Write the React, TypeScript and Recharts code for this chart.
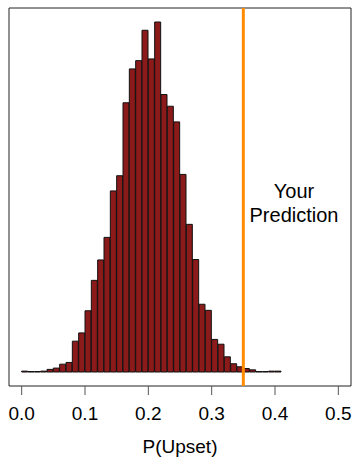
import { BarChart, Bar, XAxis, YAxis, ReferenceLine, ReferenceArea, ReferenceDot } from 'recharts'

// histogram of simulated P(Upset), bins of 0.01 starting at 0
const binStart = 0
const binWidth = 0.01
const counts = [
  2, 1, 1, 2, 6, 9, 18, 22, 71, 90,
  141, 211, 258, 310, 417, 452, 620, 698, 717, 787,
  721, 806, 639, 612, 576, 455, 340, 259, 156, 142,
  75, 64, 35, 19, 12, 8, 5, 1, 1, 2,
  2,
]
const xTicks = [0, 0.1, 0.2, 0.3, 0.4, 0.5]
const prediction = 0.35
const predictionLabel = ['Your', 'Prediction']

const data = counts.map((count, i) => ({ x: binStart + (i + 0.5) * binWidth, count }))

const maxCount = Math.max(...counts)
// R style 4% padding around the ranges
const yDomain = [-0.04 * maxCount, 1.04 * maxCount]
const xDomain = [-0.02, 0.52]

const FONT = '"Liberation Sans", Arial, sans-serif'

export default function App() {
  return (
    <div style={{ position: 'absolute', left: 0, top: 0, fontFamily: FONT }}>
      <BarChart
        width={354}
        height={460}
        data={data}
        margin={{ top: 8, right: 3, bottom: 0, left: 9 }}
        barCategoryGap={0}
        barGap={0}
      >
        <XAxis
          dataKey="x"
          type="number"
          domain={xDomain}
          allowDataOverflow
          ticks={xTicks}
          tickFormatter={(v: number) => v.toFixed(1)}
          height={74}
          axisLine={false}
          tickSize={9}
          tickMargin={12}
          tickLine={{ stroke: '#555' }}
          tick={{ fill: '#000', fontSize: 19, fontFamily: FONT }}
          label={{ value: 'P(Upset)', position: 'insideBottom', offset: 7, fill: '#000', fontSize: 19, fontFamily: FONT }}
        />
        <YAxis hide domain={yDomain} allowDataOverflow />
        <Bar dataKey="count" fill="#8B1A1A" stroke="#111" strokeWidth={1} isAnimationActive={false} />
        <ReferenceLine x={prediction} stroke="#FF8C00" strokeWidth={3} />
        <ReferenceDot
          x={0.43}
          y={400}
          r={0}
          fill="none"
          stroke="none"
          label={{
            content: (props: any) => {
              const { viewBox } = props
              const cx = viewBox.x + viewBox.width / 2
              const cy = viewBox.y + viewBox.height / 2
              return (
                <text textAnchor="middle" fontSize={20} fontFamily={FONT} fill="#000">
                  {predictionLabel.map((line, i) => (
                    <tspan key={line} x={cx} y={cy + i * 24}>{line}</tspan>
                  ))}
                </text>
              )
            },
          }}
        />
        <ReferenceArea
          x1={xDomain[0]}
          x2={xDomain[1]}
          y1={yDomain[0]}
          y2={yDomain[1]}
          fill="none"
          fillOpacity={0}
          stroke="#222"
          strokeWidth={1}
        />
      </BarChart>
    </div>
  )
}
